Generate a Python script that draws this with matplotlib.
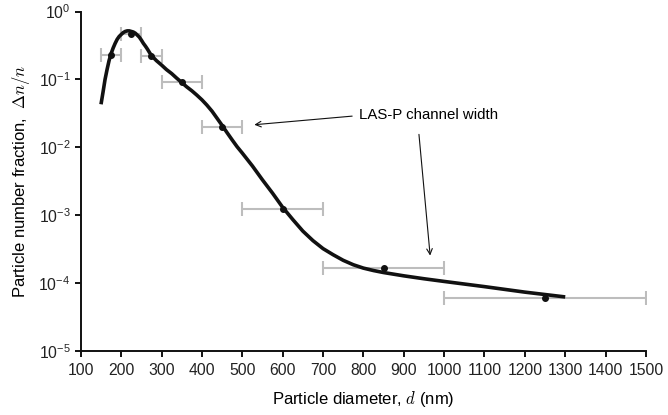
import numpy as np
import matplotlib.pyplot as plt
from matplotlib.ticker import FixedLocator, NullLocator

plt.rcParams['font.family'] = ['Liberation Sans', 'DejaVu Sans']
plt.rcParams['mathtext.fontset'] = 'cm'

# LAS-P channels: mid diameter, fraction, channel edges (nm)
d_mid = [175, 225, 275, 350, 450, 600, 850, 1250]
frac = [0.23, 0.46, 0.22, 0.092, 0.020, 0.00122, 1.65e-4, 6.0e-5]
ch_lo = [150, 200, 250, 300, 400, 500, 700, 1000]
ch_hi = [200, 250, 300, 400, 500, 700, 1000, 1500]

# fitted distribution
fit_d = [150, 155, 160, 165, 170, 175, 180, 185, 190, 195, 200, 205, 210,
         215, 220, 225, 230, 235, 240, 245, 250, 255, 260, 265, 270, 275,
         287, 300, 312, 325, 337, 350, 362, 375, 387, 400, 412, 425, 437,
         450, 462, 475, 487, 500, 525, 550, 575, 600, 625, 650, 675, 700,
         725, 750, 775, 800, 825, 850, 900, 950, 1000, 1100, 1200, 1300]
fit_n = [0.043, 0.065, 0.10, 0.14, 0.19, 0.24, 0.29, 0.34, 0.39, 0.43, 0.46,
         0.49, 0.51, 0.52, 0.52, 0.51, 0.50, 0.48, 0.45, 0.42, 0.38, 0.34,
         0.31, 0.28, 0.25, 0.225, 0.19, 0.163, 0.14, 0.122, 0.105, 0.09,
         0.078, 0.068, 0.059, 0.05, 0.042, 0.034, 0.027, 0.021, 0.0165,
         0.0128, 0.0102, 0.0082, 0.0053, 0.0033, 0.0021, 0.0013, 8.6e-4,
         5.8e-4, 4.2e-4, 3.2e-4, 2.6e-4, 2.15e-4, 1.85e-4, 1.65e-4, 1.52e-4,
         1.42e-4, 1.27e-4, 1.15e-4, 1.05e-4, 8.8e-5, 7.3e-5, 6.2e-5]

fig = plt.figure(figsize=(6.68, 4.15), dpi=100)
ax = fig.add_axes([0.121, 0.155, 0.846, 0.817])

d_mid = np.array(d_mid)
xerr = [d_mid - np.array(ch_lo), np.array(ch_hi) - d_mid]
ax.errorbar(d_mid, frac, xerr=xerr, fmt='none', ecolor='#bdbdbd',
            elinewidth=1.5, capsize=5, capthick=1.5, zorder=1)
ax.plot(fit_d, fit_n, color='#111111', lw=2.6, solid_capstyle='butt',
        solid_joinstyle='round', zorder=2)
ax.plot(d_mid, frac, 'o', color='#111111', ms=4, zorder=3)

ax.set_yscale('log')
ax.set_xlim(100, 1500)
ax.set_ylim(1e-5, 1)
ax.xaxis.set_major_locator(FixedLocator(np.arange(100, 1501, 100)))
ax.yaxis.set_major_locator(FixedLocator([1e-5, 1e-4, 1e-3, 1e-2, 1e-1, 1]))
ax.yaxis.set_minor_locator(NullLocator())
ax.set_yticklabels([r'$\mathregular{10^{%d}}$' % e for e in range(-5, 1)])

for s in ['top', 'right']:
    ax.spines[s].set_visible(False)
for s in ['left', 'bottom']:
    ax.spines[s].set_linewidth(1.4)
    ax.spines[s].set_color('#111111')
ax.tick_params(direction='out', length=4, width=1.4, labelsize=11.3,
               colors='#111111', labelcolor='#222222')
ax.tick_params(axis='x', pad=5)

ax.set_xlabel(r'Particle diameter, $d$ (nm)', fontsize=12, labelpad=8)
ax.set_ylabel(r'Particle number fraction,  $\Delta n/n$', fontsize=12, labelpad=5)

ax.text(790, 0.03, 'LAS-P channel width', fontsize=10.8, va='center', ha='left')
ax.annotate('', xy=(523, 0.0213), xytext=(779, 0.029),
            arrowprops=dict(arrowstyle='->', color='#111111', lw=0.8))
ax.annotate('', xy=(966, 2.3e-4), xytext=(937, 0.017),
            arrowprops=dict(arrowstyle='->', color='#111111', lw=0.8))

fig.savefig('out.png', dpi=100)
